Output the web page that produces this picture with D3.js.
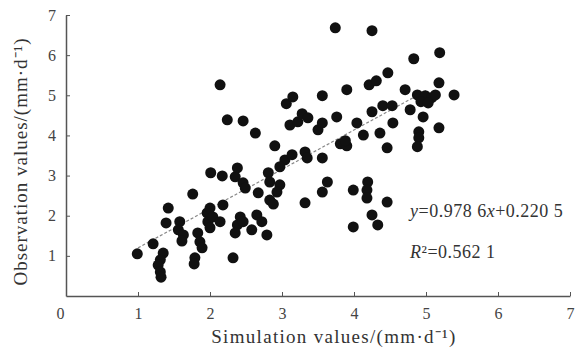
<!DOCTYPE html>
<html>
<head>
<meta charset="utf-8">
<script src="https://cdn.jsdelivr.net/npm/d3@7"></script>
<style>
  body { margin: 0; background: #fff; }
  text { font-family: "Liberation Serif", "Times New Roman", serif; fill: #333; }
</style>
</head>
<body>
<div id="chart"></div>
<script>
const simValues = [
  2.14, 2.24, 2.46, 2.63, 2.90, 3.06, 3.15, 3.11, 3.22, 3.74, 4.25, 3.90, 3.56, 4.21, 4.31,
  3.28, 3.36, 3.50, 3.56, 3.76, 4.04, 4.25, 4.13, 3.81, 3.90, 3.88, 4.36, 4.83, 5.19, 4.47,
  4.71, 5.18, 4.88, 4.99, 5.08, 4.93, 5.03, 5.13, 5.39, 4.78, 4.40, 4.53, 4.96, 4.54, 5.18,
  4.90, 4.90, 4.46, 4.88, 3.32, 3.35, 3.56, 3.04, 3.14, 2.97, 2.01, 2.17, 2.35, 2.38, 2.46,
  2.49, 2.67, 2.81, 2.83, 2.97, 2.93, 2.83, 2.88, 1.76, 1.42, 1.39, 1.58, 1.56, 1.63, 1.61,
  1.96, 1.97, 1.83, 1.86, 1.89, 1.79, 1.78, 1.21, 0.99, 1.35, 1.31, 1.28, 1.31, 1.32, 2.00,
  2.04, 2.14, 2.18, 2.00, 2.42, 2.38, 2.35, 2.46, 2.58, 2.65, 2.72, 2.79, 2.32, 3.63, 3.56,
  3.32, 3.99, 4.19, 4.18, 4.18, 4.25, 4.33, 3.99, 4.46
];
const obsValues = [
  5.26, 4.39, 4.36, 4.06, 3.74, 4.79, 4.96, 4.26, 4.34, 6.68, 6.61, 5.14, 4.99, 5.26, 5.36,
  4.54, 4.44, 4.14, 4.31, 4.46, 4.31, 4.59, 4.01, 3.79, 3.74, 3.87, 4.06, 5.91, 6.06, 5.56,
  5.14, 5.31, 5.01, 4.99, 4.94, 4.84, 4.81, 5.01, 5.01, 4.64, 4.74, 4.74, 4.46, 4.31, 4.19,
  4.09, 3.94, 3.69, 3.72, 3.59, 3.44, 3.44, 3.39, 3.52, 3.22, 3.07, 2.99, 2.97, 3.19, 2.82,
  2.69, 2.57, 3.07, 2.84, 2.77, 2.59, 2.39, 2.29, 2.54, 2.19, 1.82, 1.85, 1.65, 1.52, 1.37,
  2.07, 1.85, 1.57, 1.35, 1.20, 0.95, 0.80, 1.30, 1.05, 1.07, 0.90, 0.77, 0.60, 0.47, 2.19,
  1.97, 1.85, 2.27, 1.70, 1.97, 1.77, 1.57, 1.85, 1.65, 2.02, 1.85, 1.52, 0.95, 2.84, 2.59,
  2.32, 2.64, 2.84, 2.64, 2.44, 2.02, 1.77, 1.72, 2.34
];
const xTicks = [0, 1, 2, 3, 4, 5, 6, 7];
const yTicks = [1, 2, 3, 4, 5, 6, 7];
const slope = 0.9786, intercept = 0.2205;
const fitRange = [1, 5];

const width = 584, height = 353;
const svg = d3.select('#chart').append('svg')
    .attr('width', width)
    .attr('height', height);

const x = d3.scaleLinear().domain([0, 7]).range([66, 570]);
const y = d3.scaleLinear().domain([0, 7]).range([296, 15]);
const axisColor = '#555';

// Fit line (dashed)
svg.append('line')
    .attr('x1', x(fitRange[0])).attr('y1', y(slope * fitRange[0] + intercept))
    .attr('x2', x(fitRange[1])).attr('y2', y(slope * fitRange[1] + intercept))
    .attr('stroke', '#888')
    .attr('stroke-width', 1.2)
    .attr('stroke-dasharray', '3,2');

// Points
svg.selectAll('.pt')
    .data(simValues.map((s, i) => [s, obsValues[i]]))
    .enter()
    .append('circle')
    .attr('class', 'pt')
    .attr('cx', d => x(d[0]))
    .attr('cy', d => y(d[1]))
    .attr('r', 5.5)
    .attr('fill', '#111');

// X axis: ticks pointing up
const xAxis = svg.append('g')
    .attr('transform', `translate(0,${y(0)})`)
    .call(d3.axisBottom(x).tickValues(xTicks).tickFormat(d3.format('d'))
        .tickSizeInner(-4).tickSizeOuter(0).tickPadding(12));
xAxis.select('.domain').attr('stroke', axisColor).attr('stroke-width', 1.5);
xAxis.selectAll('line').attr('stroke', axisColor);
xAxis.selectAll('text')
    .style('font-size', '16px')
    .style('fill', '#444')
    .attr('dx', d => d === 0 ? -6 : 0);

// Y axis: ticks pointing right
const yAxis = svg.append('g')
    .attr('transform', `translate(${x(0)},0)`)
    .call(d3.axisLeft(y).tickValues(yTicks).tickFormat(d3.format('d'))
        .tickSizeInner(-4).tickSizeOuter(0).tickPadding(10));
yAxis.select('.domain').attr('stroke', axisColor).attr('stroke-width', 1.5);
yAxis.selectAll('line').attr('stroke', axisColor);
yAxis.selectAll('text')
    .style('font-size', '16px')
    .style('fill', '#444');

// Axis titles
svg.append('text')
    .attr('transform', `translate(27, ${(y(0) + y(7)) / 2 + 6}) rotate(-90)`)
    .attr('text-anchor', 'middle')
    .style('font-size', '19px')
    .style('letter-spacing', '1px')
    .text('Observation values/(mm·d⁻¹)');

svg.append('text')
    .attr('x', 334)
    .attr('y', 343)
    .attr('text-anchor', 'middle')
    .style('font-size', '19px')
    .style('letter-spacing', '1.3px')
    .text('Simulation values/(mm·d⁻¹)');

// Equation and R²
const eq = svg.append('text')
    .attr('x', 410)
    .attr('y', 217)
    .style('font-size', '18px')
    .style('letter-spacing', '0.5px');
eq.append('tspan').style('font-style', 'italic').text('y');
eq.append('tspan').text('=0.978 6');
eq.append('tspan').style('font-style', 'italic').text('x');
eq.append('tspan').text('+0.220 5');

const r2 = svg.append('text')
    .attr('x', 410)
    .attr('y', 258)
    .style('font-size', '18px')
    .style('letter-spacing', '0.5px');
r2.append('tspan').style('font-style', 'italic').text('R');
r2.append('tspan').text('²=0.562 1');
</script>
</body>
</html>
